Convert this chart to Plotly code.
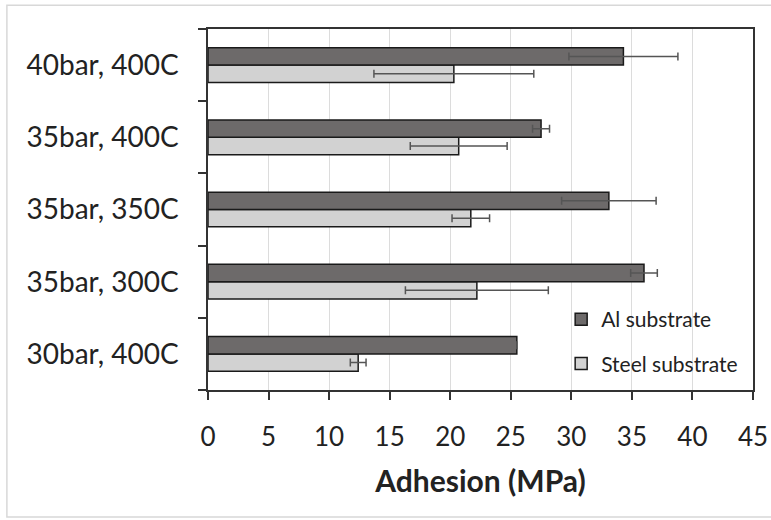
import plotly.graph_objects as go

categories = ["30bar, 400C", "35bar, 300C", "35bar, 350C", "35bar, 400C", "40bar, 400C"]
al_values = [25.5, 36.0, 33.1, 27.5, 34.3]
al_errors = [0.0, 1.1, 3.9, 0.7, 4.5]
steel_values = [12.4, 22.2, 21.7, 20.7, 20.3]
steel_errors = [0.65, 5.9, 1.55, 4.0, 6.6]
x_ticks = [0, 5, 10, 15, 20, 25, 30, 35, 40, 45]

FONT = "Lato"

fig = go.Figure()
fig.add_trace(go.Bar(
    y=categories, x=steel_values, orientation="h", name="Steel substrate",
    marker=dict(color="#d2d2d2", line=dict(color="#1a1a1a", width=1.5)),
    error_x=dict(type="data", array=steel_errors, color="#555555", thickness=1.5, width=4),
    legendgroup="s", legendrank=2,
))
fig.add_trace(go.Bar(
    y=categories, x=al_values, orientation="h", name="Al substrate",
    marker=dict(color="#6d6a6a", line=dict(color="#1a1a1a", width=1.5)),
    error_x=dict(type="data", array=al_errors, color="#555555", thickness=1.5, width=4),
    legendgroup="a", legendrank=1,
))

fig.update_layout(
    width=771, height=520,
    margin=dict(l=208, r=18, t=29, b=130),
    paper_bgcolor="white", plot_bgcolor="white",
    barmode="group", bargap=0.52, bargroupgap=0,
    font=dict(family=FONT, color="#222222"),
    showlegend=True,
    legend=dict(
        x=0.648, y=0.134, xanchor="left", yanchor="middle",
        traceorder="grouped", tracegroupgap=14,
        font=dict(size=21, family=FONT, color="#222222"),
        bgcolor="rgba(0,0,0,0)", itemwidth=30,
    ),
    xaxis=dict(
        range=[0, 45], tickvals=x_ticks, ticktext=[str(v) for v in x_ticks],
        showgrid=True, gridcolor="#dcdcdc", gridwidth=1,
        showline=True, linecolor="#333333", linewidth=1.5, mirror=True,
        ticks="outside", ticklen=8, tickcolor="#333333", tickwidth=1.5,
        tickfont=dict(size=26, family=FONT, color="#222222"),
        ticklabelstandoff=15,
        title=dict(text="<b>Adhesion (MPa)</b>", font=dict(size=30, family=FONT, color="#222222"), standoff=20),
        zeroline=False, fixedrange=True, automargin=False,
    ),
    yaxis=dict(
        type="category", categoryorder="array", categoryarray=categories,
        showline=True, linecolor="#333333", linewidth=1.5, mirror=True,
        ticks="outside", ticklen=8, tickcolor="#333333", tickwidth=1.5,
        tickson="boundaries",
        tickfont=dict(size=28, family=FONT, color="#222222"),
        ticklabelstandoff=22,
        showgrid=False, fixedrange=True, automargin=False,
    ),
    shapes=[dict(
        type="rect", xref="paper", yref="paper",
        x0=-0.369, x1=1.06, y0=-0.352, y1=1.066,
        line=dict(color="#d8d8d8", width=1.5), fillcolor="rgba(0,0,0,0)",
    )],
)

fig.write_html("out.html", config={"displayModeBar": False},
               post_script="document.body.style.margin='0px';")
